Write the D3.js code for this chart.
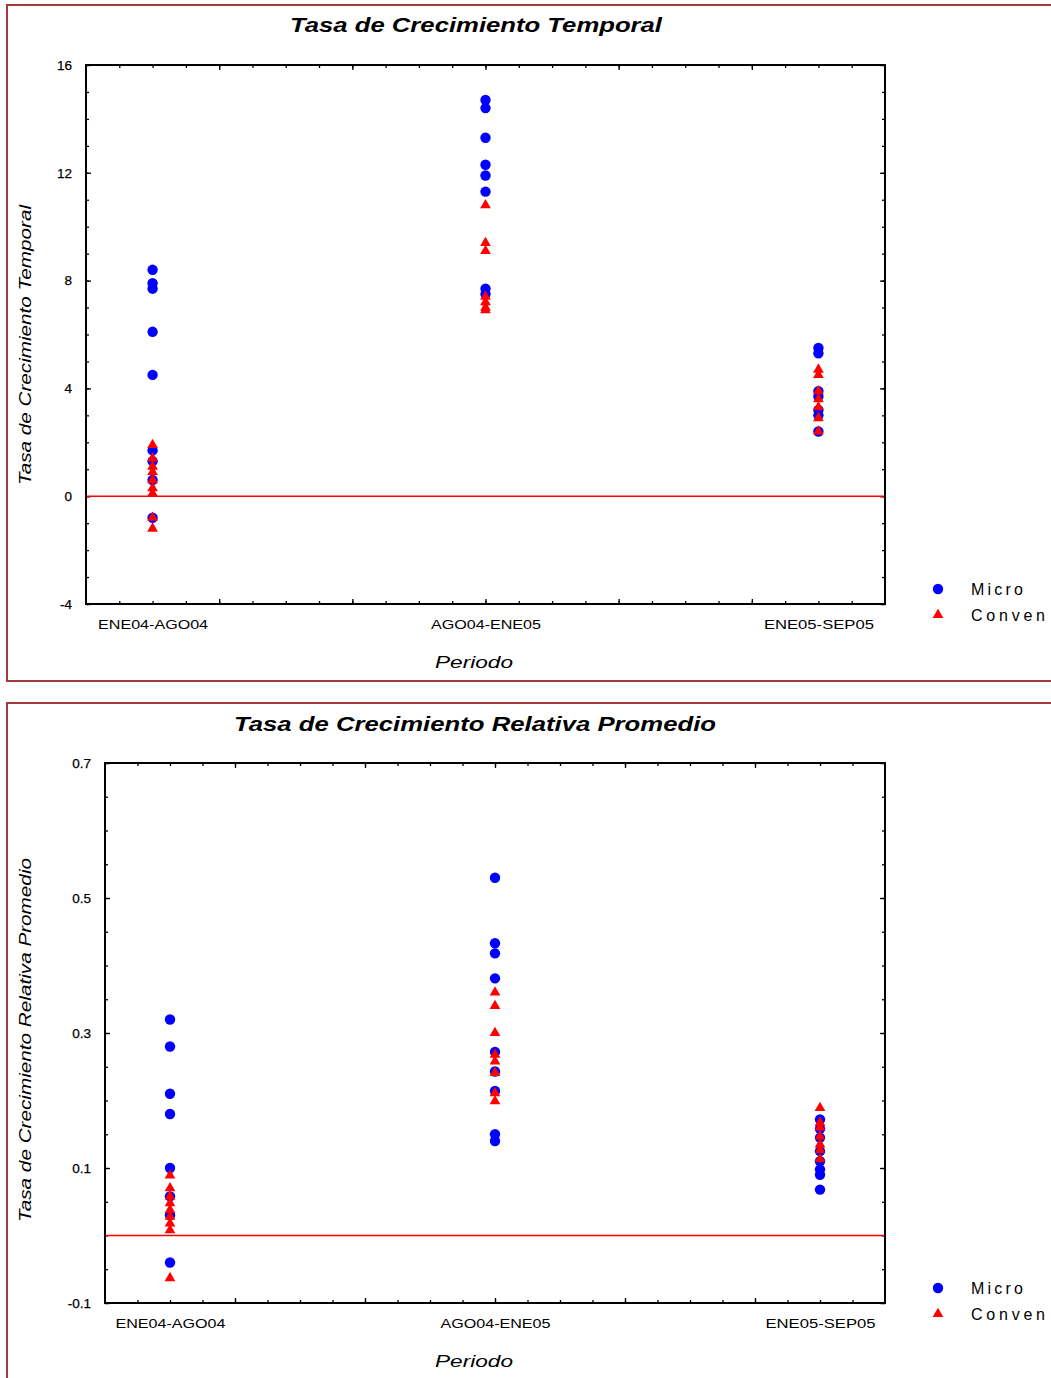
<!DOCTYPE html>
<html>
<head>
<meta charset="utf-8">
<script src="https://cdn.jsdelivr.net/npm/d3@7"></script>
<style>
  html, body { margin: 0; padding: 0; background: #fff; }
  svg { display: block; }
  text { font-family: "Liberation Sans", Arial, sans-serif; fill: #000; }
</style>
</head>
<body>
<svg id="chart" width="1051" height="1378"></svg>
<script>
// Periods on the x axis
const periods = ["ENE04-AGO04", "AGO04-ENE05", "ENE05-SEP05"];
const seriesNames = ["Micro", "Conven"];

// Tasa de Crecimiento Temporal, one list per period
const temporalMicro = [
  [8.4, 7.9, 7.7, 6.1, 4.5, 1.7, 1.3, 0.6, -0.8],
  [14.7, 14.4, 13.3, 12.3, 11.9, 11.3, 7.7, 7.5],
  [5.5, 5.3, 3.9, 3.7, 3.2, 3.0, 2.4]
];
const temporalConven = [
  [1.9, 1.4, 1.1, 0.9, 0.6, 0.3, 0.1, -0.8, -1.2],
  [10.8, 9.4, 9.1, 7.4, 7.2, 7.0, 6.9],
  [4.7, 4.5, 3.9, 3.6, 3.3, 2.9, 2.4]
];
const temporalTicks = [-4, 0, 4, 8, 12, 16];

// Tasa de Crecimiento Relativa Promedio, one list per period
const relativaMicro = [
  [0.32, 0.28, 0.21, 0.18, 0.10, 0.058, 0.030, -0.040],
  [0.53, 0.433, 0.418, 0.381, 0.272, 0.243, 0.214, 0.150, 0.140],
  [0.172, 0.158, 0.145, 0.125, 0.110, 0.098, 0.090, 0.068]
];
const relativaConven = [
  [0.089, 0.070, 0.058, 0.048, 0.038, 0.028, 0.018, 0.008, -0.063],
  [0.36, 0.34, 0.30, 0.268, 0.258, 0.241, 0.211, 0.199],
  [0.189, 0.167, 0.160, 0.147, 0.135, 0.127, 0.113]
];
const relativaTicks = [-0.1, 0.1, 0.3, 0.5, 0.7];

const svg = d3.select("#chart");

function flatten(groups) {
  const out = [];
  groups.forEach((vals, i) => vals.forEach(v => out.push({ p: i + 1, v })));
  return out;
}

function drawPanel(cfg) {
  const g = svg.append("g");

  // panel frame
  g.append("rect")
    .attr("x", cfg.frame[0]).attr("y", cfg.frame[1])
    .attr("width", cfg.frame[2]).attr("height", cfg.frame[3])
    .attr("fill", "none").attr("stroke", "#a33a3c").attr("stroke-width", 2);

  const x = d3.scaleLinear().domain([0.8, 3.2]).range([cfg.left, cfg.right]);
  const y = d3.scaleLinear().domain(cfg.yDomain).range([cfg.bottom, cfg.top]);

  const xMinor = d3.range(0.9, 3.15, 0.1).map(d => +d.toFixed(2));
  const xMajor = xMinor.filter(d => Math.abs((d - 0.8) / 0.4 - Math.round((d - 0.8) / 0.4)) < 1e-6);
  const yMinor = d3.range(cfg.yDomain[0], cfg.yDomain[1] + cfg.yMinorStep / 2, cfg.yMinorStep)
    .map(d => +d.toFixed(4));

  function tickAxis(axisFn, scale, values, size, transform) {
    const a = g.append("g").attr("transform", transform)
      .call(axisFn(scale).tickValues(values).tickSize(-size).tickSizeOuter(0).tickFormat(""));
    a.select(".domain").remove();
    a.selectAll("line").attr("stroke", "#000").attr("stroke-width", 1.3);
    return a;
  }

  // inward ticks on all four sides
  tickAxis(d3.axisBottom, x, xMinor, 3, `translate(0,${cfg.bottom})`);
  tickAxis(d3.axisBottom, x, xMajor, 5, `translate(0,${cfg.bottom})`);
  tickAxis(d3.axisTop, x, xMinor, 3, `translate(0,${cfg.top})`);
  tickAxis(d3.axisTop, x, xMajor, 5, `translate(0,${cfg.top})`);
  tickAxis(d3.axisLeft, y, yMinor, 3, `translate(${cfg.left},0)`);
  tickAxis(d3.axisLeft, y, cfg.yTicks, 5, `translate(${cfg.left},0)`);
  tickAxis(d3.axisRight, y, yMinor, 3, `translate(${cfg.right},0)`);
  tickAxis(d3.axisRight, y, cfg.yTicks, 5, `translate(${cfg.right},0)`);

  // y tick labels
  const yl = g.append("g").attr("transform", `translate(${cfg.left - 14},0)`)
    .call(d3.axisLeft(y).tickValues(cfg.yTicks).tickSize(0).tickFormat(cfg.yFormat));
  yl.select(".domain").remove();
  yl.selectAll("text").attr("font-size", 13.5)
    .attr("font-family", "'Liberation Sans', Arial, sans-serif").attr("x", 0)
    .attr("stroke", "#000").attr("stroke-width", 0.25);

  // category labels
  const xl = g.append("g").attr("transform", `translate(0,${cfg.bottom + 13})`)
    .call(d3.axisBottom(x).tickValues([1, 2, 3]).tickSize(0).tickFormat((d, i) => periods[i]));
  xl.select(".domain").remove();
  xl.selectAll("text").attr("font-size", 12)
    .attr("font-family", "'Liberation Sans', Arial, sans-serif")
    .attr("textLength", 110).attr("lengthAdjust", "spacingAndGlyphs");

  // zero reference line
  g.append("line")
    .attr("x1", cfg.left).attr("x2", cfg.right)
    .attr("y1", y(0)).attr("y2", y(0))
    .attr("stroke", "#ff0000").attr("stroke-width", 1.5);

  // plot frame
  g.append("rect")
    .attr("x", cfg.left).attr("y", cfg.top)
    .attr("width", cfg.right - cfg.left).attr("height", cfg.bottom - cfg.top)
    .attr("fill", "none").attr("stroke", "#000").attr("stroke-width", 2);

  // Micro points (circles), then Conven points (triangles) on top
  g.append("g").selectAll("circle").data(flatten(cfg.micro)).join("circle")
    .attr("cx", d => x(d.p)).attr("cy", d => y(d.v)).attr("r", 5.2)
    .attr("fill", "#0000ff");
  const tri = d3.symbol().type(d3.symbolTriangle).size(50);
  g.append("g").selectAll("path").data(flatten(cfg.conven)).join("path")
    .attr("d", tri)
    .attr("transform", d => `translate(${x(d.p)},${y(d.v)})`)
    .attr("fill", "#ff0000");

  // title
  g.append("text")
    .attr("x", cfg.titleX).attr("y", cfg.titleY)
    .attr("text-anchor", "middle")
    .attr("font-family", "'DejaVu Sans', Verdana, sans-serif")
    .attr("font-weight", "bold").attr("font-style", "italic").attr("font-size", 20)
    .attr("textLength", cfg.titleLen).attr("lengthAdjust", "spacingAndGlyphs")
    .text(cfg.title);

  // y axis title
  g.append("text")
    .attr("transform", `translate(${cfg.yTitleX},${cfg.yTitleY}) rotate(-90)`)
    .attr("text-anchor", "middle").attr("font-style", "italic").attr("font-size", 16)
    .attr("textLength", cfg.yTitleLen).attr("lengthAdjust", "spacingAndGlyphs")
    .text(cfg.yTitle);

  // x axis title
  g.append("text")
    .attr("x", 474).attr("y", cfg.bottom + 64)
    .attr("text-anchor", "middle").attr("font-style", "italic").attr("font-size", 17)
    .attr("textLength", 78).attr("lengthAdjust", "spacingAndGlyphs")
    .text("Periodo");

  // legend
  const lg = g.append("g").attr("transform", `translate(938,${cfg.legendY})`);
  lg.append("circle").attr("cx", 0).attr("cy", 0).attr("r", 5.2).attr("fill", "#0000ff");
  lg.append("path").attr("d", tri).attr("transform", "translate(0,26)").attr("fill", "#ff0000");
  lg.append("text").attr("x", 33).attr("y", 6).attr("font-size", 16)
    .attr("textLength", 52).attr("lengthAdjust", "spacing").text(seriesNames[0]);
  lg.append("text").attr("x", 33).attr("y", 32).attr("font-size", 16)
    .attr("textLength", 74).attr("lengthAdjust", "spacing").text(seriesNames[1]);
}

drawPanel({
  frame: [7, 5, 1060, 676],
  left: 86, right: 885, top: 65, bottom: 604,
  yDomain: [-4, 16], yTicks: temporalTicks, yMinorStep: 1,
  yFormat: d => d3.format("d")(d).replace("−", "-"),
  micro: temporalMicro, conven: temporalConven,
  title: "Tasa de Crecimiento Temporal", titleX: 476, titleY: 32, titleLen: 372,
  yTitle: "Tasa de Crecimiento Temporal", yTitleX: 31, yTitleY: 345, yTitleLen: 280,
  legendY: 589
});

drawPanel({
  frame: [7, 703, 1060, 690],
  left: 105, right: 885, top: 763, bottom: 1303,
  yDomain: [-0.1, 0.7], yTicks: relativaTicks, yMinorStep: 0.05,
  yFormat: d => d3.format(".1f")(d).replace("−", "-"),
  micro: relativaMicro, conven: relativaConven,
  title: "Tasa de Crecimiento Relativa Promedio", titleX: 475, titleY: 731, titleLen: 482,
  yTitle: "Tasa de Crecimiento Relativa Promedio", yTitleX: 31, yTitleY: 1040, yTitleLen: 364,
  legendY: 1288
});
</script>
</body>
</html>
